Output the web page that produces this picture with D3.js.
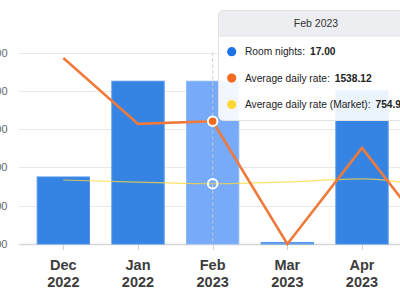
<!DOCTYPE html>
<html>
<head>
<meta charset="utf-8">
<script src="https://cdn.jsdelivr.net/npm/d3@7"></script>
<style>
    body { margin: 0; overflow: hidden; background: #fff; }
    svg { display: block; font-family: "Liberation Sans", Arial, sans-serif; }
</style>
</head>
<body>
<svg id="chart" width="400" height="300"></svg>
<script>
var months = ['Dec 2022', 'Jan 2022', 'Feb 2023', 'Mar 2023', 'Apr 2023', 'May 2023'];
var roomNights = [7, 17, 17, 0.15, 16, 0];
var dailyRate = [2330, 1505, 1538.12, 0, 1205, 0];
var marketRate = [802, 775, 754.9, 778, 815, 690];
var yTicks = [0, 4, 8, 12, 16, 20];
var hoverIndex = 2;

var svg = d3.select('#chart');

var x = d3.scaleBand()
    .domain(months)
    .range([26, 474])
    .paddingInner(0.3)
    .paddingOuter(0.15);

var y = d3.scaleLinear().domain([0, 20]).range([244, 52.5]);
var yRate = d3.scaleLinear().domain([0, 2400]).range([244, 52.5]);

function center(d) {
    return x(d) + x.bandwidth() / 2;
}

// grid
var grid = svg.append('g');
grid.selectAll('line')
    .data(yTicks)
    .enter().append('line')
    .attr('x1', 19)
    .attr('x2', 480)
    .attr('y1', function (d) { return Math.round(y(d)) + 0.5; })
    .attr('y2', function (d) { return Math.round(y(d)) + 0.5; })
    .attr('stroke', function (d) { return d === 0 ? '#d6d6d6' : '#e8e8e8'; })
    .attr('stroke-width', function (d) { return d === 0 ? 1.5 : 1; });

grid.selectAll('text')
    .data(yTicks)
    .enter().append('text')
    .attr('x', 7.5)
    .attr('y', function (d) { return y(d) + 4; })
    .attr('text-anchor', 'end')
    .attr('font-size', 11)
    .attr('fill', '#666')
    .text(d3.format('.2f'));

// x ticks and labels
var xAxis = svg.append('g');
xAxis.selectAll('line')
    .data(months)
    .enter().append('line')
    .attr('x1', function (d) { return Math.round(center(d)) + 0.5; })
    .attr('x2', function (d) { return Math.round(center(d)) + 0.5; })
    .attr('y1', 245)
    .attr('y2', 250)
    .attr('stroke', '#d0d0d0');

var labels = xAxis.selectAll('text')
    .data(months)
    .enter().append('text')
    .attr('text-anchor', 'middle')
    .attr('font-size', 14.5)
    .attr('font-weight', 'bold')
    .attr('fill', '#3d3d3d');
labels.append('tspan')
    .attr('x', center)
    .attr('y', 270)
    .text(function (d) { return d.split(' ')[0]; });
labels.append('tspan')
    .attr('x', center)
    .attr('y', 287)
    .text(function (d) { return d.split(' ')[1]; });

// bars
svg.append('g').selectAll('rect')
    .data(roomNights)
    .enter().append('rect')
    .attr('x', function (d, i) { return x(months[i]); })
    .attr('width', x.bandwidth())
    .attr('y', function (d) { return y(d); })
    .attr('height', function (d) { return Math.max(0, 244 - y(d)); })
    .attr('fill', function (d, i) {
        if (i === hoverIndex) return '#77aaf8';
        return d < 1 ? '#8ab5f2' : '#3584e4';
    })
    .attr('stroke', function (d, i) { return i === hoverIndex ? '#8cb8fa' : '#4d93ea'; })
    .attr('stroke-width', 1);

// crosshair
var hx = center(months[hoverIndex]);
svg.append('line')
    .attr('x1', hx).attr('x2', hx)
    .attr('y1', 52.5).attr('y2', 244)
    .attr('stroke', '#c8c8c8')
    .attr('stroke-dasharray', '3,3');

// market line
var marketLine = d3.line()
    .x(function (d, i) { return center(months[i]); })
    .y(function (d) { return yRate(d); })
    .curve(d3.curveMonotoneX);

svg.append('path')
    .datum(marketRate)
    .attr('d', marketLine)
    .attr('fill', 'none')
    .attr('stroke', '#fdd835')
    .attr('stroke-opacity', 0.75)
    .attr('stroke-width', 1.2);

// daily rate line
var rateLine = d3.line()
    .x(function (d, i) { return center(months[i]); })
    .y(function (d) { return yRate(d); });

svg.append('path')
    .datum(dailyRate)
    .attr('d', rateLine)
    .attr('fill', 'none')
    .attr('stroke', '#f07a3a')
    .attr('stroke-width', 2.6);

// hover markers
svg.append('circle')
    .attr('cx', hx)
    .attr('cy', yRate(marketRate[hoverIndex]))
    .attr('r', 4.8)
    .attr('fill', 'none')
    .attr('stroke', '#fff')
    .attr('stroke-width', 2);

svg.append('circle')
    .attr('cx', hx)
    .attr('cy', yRate(dailyRate[hoverIndex]))
    .attr('r', 4.8)
    .attr('fill', '#f26b21')
    .attr('stroke', '#fff')
    .attr('stroke-width', 2);

// tooltip
var tip = svg.append('g').attr('transform', 'translate(218,10)');
tip.append('rect')
    .attr('x', 0.5).attr('y', 0.5)
    .attr('width', 196).attr('height', 110)
    .attr('rx', 5)
    .attr('fill', '#fff')
    .attr('fill-opacity', 0.9)
    .attr('stroke', '#e2e2e2');
tip.append('path')
    .attr('d', 'M0.5,26 V5.5 Q0.5,0.5 5.5,0.5 H191.5 Q196.5,0.5 196.5,5.5 V26 Z')
    .attr('fill', '#eceef1')
    .attr('stroke', '#e2e2e2');
tip.append('text')
    .attr('x', 98)
    .attr('y', 17)
    .attr('text-anchor', 'middle')
    .attr('font-size', 10.5)
    .attr('fill', '#333')
    .text(months[hoverIndex]);

var tipRows = [
    { label: 'Room nights:', value: roomNights[hoverIndex], color: '#1a73e8' },
    { label: 'Average daily rate:', value: dailyRate[hoverIndex], color: '#f26b21' },
    { label: 'Average daily rate (Market):', value: marketRate[hoverIndex], color: '#fdd835' }
];

var row = tip.selectAll('g.row')
    .data(tipRows)
    .enter().append('g')
    .attr('class', 'row')
    .attr('transform', function (d, i) { return 'translate(0,' + (41.7 + i * 26.4) + ')'; });
row.append('circle')
    .attr('cx', 13.7)
    .attr('r', 4.6)
    .attr('fill', function (d) { return d.color; });
var rowText = row.append('text')
    .attr('x', 27)
    .attr('y', 3.6)
    .attr('font-size', 10.2)
    .attr('fill', '#222');
rowText.append('tspan').text(function (d) { return d.label; });
rowText.append('tspan')
    .attr('dx', 5)
    .attr('font-weight', 'bold')
    .text(function (d) { return d3.format('.2f')(d.value); });
</script>
</body>
</html>
